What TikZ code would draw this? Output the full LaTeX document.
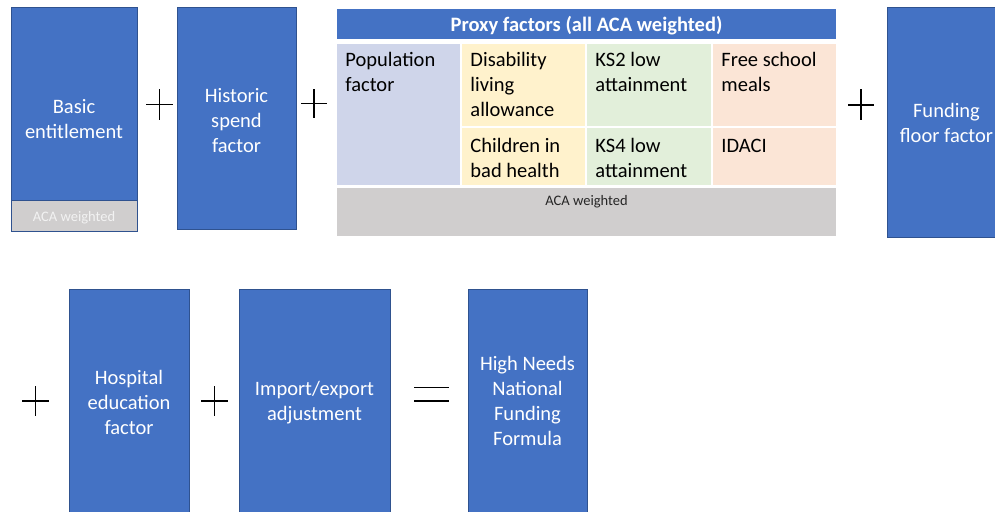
\documentclass[tikz,border=0pt]{standalone}
\usepackage{fontspec}
\setmainfont{Carlito}
\definecolor{boxblue}{HTML}{4472C4}
\definecolor{boxedge}{HTML}{2F528F}
\definecolor{popc}{HTML}{CFD5EA}
\definecolor{disc}{HTML}{FFF2CC}
\definecolor{ksc}{HTML}{E2EFDA}
\definecolor{fsmc}{HTML}{FBE5D6}
\definecolor{grayc}{HTML}{D0CECE}
\definecolor{stripc}{HTML}{D0CECE}
\definecolor{striptext}{HTML}{F2F2F2}
\newcommand\tstrut{\rule{0pt}{17pt}}
\begin{document}
\begin{tikzpicture}[x=1pt,y=-1pt,
  bluebox/.style={draw=boxedge, fill=boxblue, line width=0.9pt, inner sep=0pt},
  boxtext/.style={text=white, font=\fontsize{20.5}{25}\selectfont, align=center},
  cell/.style={draw=white, line width=1.5pt, inner sep=0pt},
  celltext/.style={text=black, font=\fontsize{20.5}{25}\selectfont, align=left, anchor=north west, inner sep=0pt},
  smalltext/.style={font=\fontsize{14.5}{17}\selectfont, inner sep=0pt},
  opline/.style={line width=1.9pt, black}]
\clip (0,0) rectangle (995,511);
\fill[white] (0,0) rectangle (995,511);

% top row
\node[bluebox, minimum width=126pt, minimum height=193pt] (basic) at (74,103.5) {};
\node[bluebox, fill=stripc, minimum width=126pt, minimum height=31pt] (strip) at (74,215.5) {};
\node[smalltext, text=striptext] (stript) at (74,217.5) {ACA weighted};
\node[boxtext] (basict) at (74,119) {Basic\\entitlement};

\node[bluebox, minimum width=119pt, minimum height=222pt] (hist) at (236.5,118) {};
\node[boxtext] (histt) at (236.5,121) {Historic\\spend\\factor};

\node[bluebox, minimum width=119pt, minimum height=230pt] (floor) at (946.5,122) {};
\node[boxtext] (floort) at (946.5,123) {Funding\\floor factor};

% proxy table
\node[cell, fill=boxblue, minimum width=501pt, minimum height=32pt] (head) at (586.5,24) {};
\node[text=white, font=\bfseries\fontsize{20.5}{25}\selectfont, inner sep=0pt] (headt) at (586.5,26) {Proxy factors (all ACA weighted)};
\node[cell, fill=popc, minimum width=125pt, minimum height=143pt] (pop) at (398.5,114.5) {};
\node[cell, fill=disc, minimum width=125pt, minimum height=84pt] (dis) at (523.5,85) {};
\node[cell, fill=ksc, minimum width=126pt, minimum height=84pt] (kstwo) at (649,85) {};
\node[cell, fill=fsmc, minimum width=125pt, minimum height=84pt] (fsm) at (774.5,85) {};
\node[cell, fill=disc, minimum width=125pt, minimum height=59pt] (bad) at (523.5,156.5) {};
\node[cell, fill=ksc, minimum width=126pt, minimum height=59pt] (ksfour) at (649,156.5) {};
\node[cell, fill=fsmc, minimum width=125pt, minimum height=59pt] (idaci) at (774.5,156.5) {};
\node[cell, fill=grayc, minimum width=501pt, minimum height=50pt] (aca) at (586.5,212) {};

\node[celltext] (popt) at ([xshift=10pt,yshift=-7pt]pop.north west) {\tstrut Population\\factor};
\node[celltext] (dist) at ([xshift=10pt,yshift=-7pt]dis.north west) {\tstrut Disability\\living\\allowance};
\node[celltext] (kstwot) at ([xshift=10pt,yshift=-7pt]kstwo.north west) {\tstrut KS2 low\\attainment};
\node[celltext] (fsmt) at ([xshift=10pt,yshift=-7pt]fsm.north west) {\tstrut Free school\\meals};
\node[celltext] (badt) at ([xshift=10pt,yshift=-9pt]bad.north west) {\tstrut Children in\\bad health};
\node[celltext] (ksfourt) at ([xshift=10pt,yshift=-9pt]ksfour.north west) {\tstrut KS4 low\\attainment};
\node[celltext] (idacit) at ([xshift=10pt,yshift=-9pt]idaci.north west) {\tstrut IDACI};
\node[smalltext, text=black!85] (acat) at (586.5,202) {ACA weighted};

% bottom row
\node[bluebox, minimum width=120pt, minimum height=224pt] (hosp) at (129,401) {};
\node[boxtext] (hospt) at (129,402) {Hospital\\education\\factor};
\node[bluebox, minimum width=151pt, minimum height=224pt] (imp) at (314.5,401) {};
\node[boxtext] (impt) at (314.5,403) {Import/export\\adjustment};
\node[bluebox, boxtext, minimum width=119pt, minimum height=224pt] (high) at (527.5,401) {High Needs\\National\\Funding\\Formula};

% operators
\draw[opline] (146,104.5) -- (173,104.5) (159.5,89) -- (159.5,120);
\draw[opline] (301,103.5) -- (327,103.5) (314,89) -- (314,118);
\draw[opline] (848,105) -- (874,105) (861,89) -- (861,120);
\draw[opline] (22,401) -- (49,401) (35.5,386) -- (35.5,416);
\draw[opline] (201,401) -- (228,401) (214.5,386) -- (214.5,416);
\draw[opline] (414,387.5) -- (449,387.5) (414,401) -- (449,401);
\end{tikzpicture}
\end{document}
